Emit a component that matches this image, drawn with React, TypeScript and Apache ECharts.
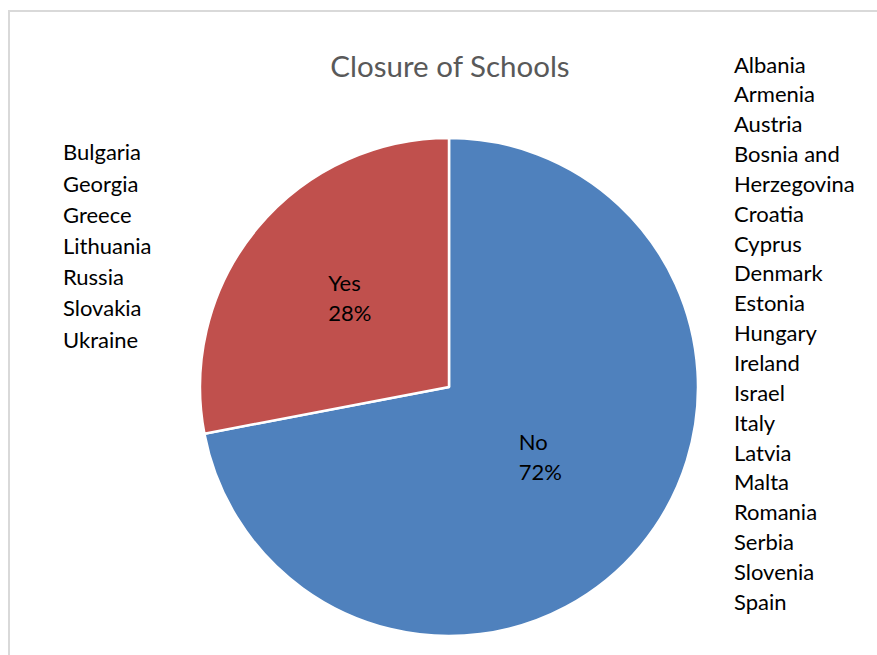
import React, { useEffect, useRef } from "react";
import * as echarts from "echarts";

const title = "Closure of Schools";
const categories = ["No", "Yes"];
const values = [18, 7];
const colors = ["#4F81BD", "#C0504D"];
const yesCountries = ["Bulgaria", "Georgia", "Greece", "Lithuania", "Russia", "Slovakia", "Ukraine"];
const noCountries = [
  "Albania", "Armenia", "Austria", "Bosnia and\nHerzegovina", "Croatia", "Cyprus", "Denmark",
  "Estonia", "Hungary", "Ireland", "Israel", "Italy", "Latvia", "Malta", "Romania", "Serbia",
  "Slovenia", "Spain",
];
const labelOffsets = [[-7, -12], [-1, -8]];

const FONT = "Lato, 'Noto Sans', sans-serif";

export default function App() {
  const ref = useRef<HTMLDivElement>(null);
  useEffect(() => {
    if (!ref.current) return;
    const chart = echarts.init(ref.current, null, { renderer: "svg" });
    chart.setOption({
      animation: false,
      backgroundColor: "#ffffff",
      graphic: [
        {
          type: "rect",
          shape: { x: 9, y: 11, width: 900, height: 700 },
          style: { fill: "none", stroke: "#D9D9D9", lineWidth: 2 },
          silent: true,
        },
        {
          type: "text",
          x: 450,
          y: 65,
          style: {
            text: title,
            fill: "#595959",
            font: `29.5px ${FONT}`,
            textAlign: "center",
            textVerticalAlign: "middle",
          },
        },
        {
          type: "text",
          x: 63,
          y: 152 - 15.6,
          style: {
            text: yesCountries.join("\n"),
            fill: "#000000",
            fontFamily: FONT,
            fontSize: 22,
            lineHeight: 31.2,
            textAlign: "left",
            textVerticalAlign: "top",
          },
        },
        {
          type: "text",
          x: 734,
          y: 64 - 14.9,
          style: {
            text: noCountries.join("\n"),
            fill: "#000000",
            fontFamily: FONT,
            fontSize: 22,
            lineHeight: 29.85,
            textAlign: "left",
            textVerticalAlign: "top",
          },
        },
      ],
      series: [
        {
          type: "pie",
          center: [449, 387],
          radius: 249,
          startAngle: 90,
          clockwise: true,
          data: categories.map((c, i) => ({
            name: c,
            value: values[i],
            itemStyle: { color: colors[i] },
            label: { offset: labelOffsets[i] },
          })),
          itemStyle: { borderColor: "#ffffff", borderWidth: 2.5 },
          label: {
            show: true,
            position: "inside",
            formatter: "{a|{b}}\n{a|{d}%}",
            rich: {
              a: { fontFamily: FONT, fontSize: 22, color: "#000000", align: "left", lineHeight: 30 },
            },
          },
          labelLine: { show: false },
          emphasis: { disabled: true },
        },
      ],
    });
    return () => chart.dispose();
  }, []);
  return <div ref={ref} style={{ position: "fixed", left: 0, top: 0, width: 877, height: 655 }} />;
}
